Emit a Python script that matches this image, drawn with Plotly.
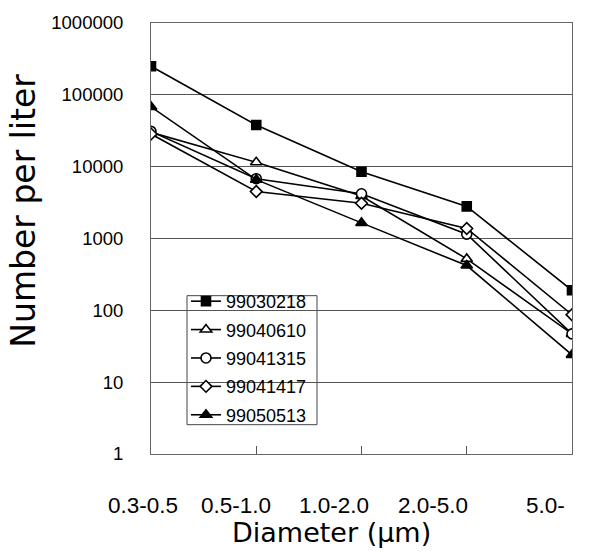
import plotly.graph_objects as go

# Particle size classes (μm)
categories = ["0.3-0.5", "0.5-1.0", "1.0-2.0", "2.0-5.0", "5.0-"]

# Number concentration per liter for each sampling run
s_99030218 = [250000, 38000, 8500, 2800, 190]
s_99040610 = [30000, 11500, 3900, 520, 47]
s_99041315 = [31000, 6800, 4200, 1150, 47]
s_99041417 = [28500, 4500, 3100, 1380, 87]
s_99050513 = [68000, 6600, 1650, 420, 24]

y_tickvals = [1, 10, 100, 1000, 10000, 100000, 1000000]
y_ticktext = ["1", "10", "100", "1000", "10000", "100000", "1000000"]

series = [
    ("99030218", s_99030218, "square", "black", 9),
    ("99040610", s_99040610, "triangle-up", "white", 10),
    ("99041315", s_99041315, "circle", "white", 10),
    ("99041417", s_99041417, "diamond", "white", 9),
    ("99050513", s_99050513, "triangle-up", "black", 10),
]

W, H = 599, 552
ML, MR, MT, MB = 100, 20, 13, 98
PW = W - ML - MR
PH = H - MT - MB
plot_left, plot_right = 151, 572
# horizontal centres of the size-class captions under the axis
label_centres = [143, 236, 334, 433, 545]


def px_x(p):
    return (p - ML) / PW


def px_y(p):
    return 1 - (p - MT) / PH


fig = go.Figure()
for name, vals, sym, fill, size in series:
    fig.add_trace(go.Scatter(
        x=list(range(len(categories))), y=vals, name=name,
        legendgroup=name,
        mode="lines+markers",
        line=dict(color="black", width=1.6),
        marker=dict(symbol=sym, size=size, color=fill,
                    line=dict(color="black", width=1.6)),
    ))

annotations = []
for cx, lab in zip(label_centres, categories):
    annotations.append(dict(
        text=lab, xref="paper", yref="paper",
        x=px_x(cx), y=px_y(507), xanchor="center", yanchor="middle",
        showarrow=False,
        font=dict(family="Liberation Sans, Arial, sans-serif", size=22.5,
                  color="black"),
    ))
annotations.append(dict(
    text="Diameter (μm)", xref="paper", yref="paper",
    x=px_x(331), y=px_y(551), xanchor="center", yanchor="bottom",
    showarrow=False, borderpad=0,
    font=dict(family="DejaVu Sans, sans-serif", size=27, color="black"),
))
annotations.append(dict(
    text="Number per liter", textangle=-90,
    xref="paper", yref="paper",
    x=px_x(24), y=px_y(205), xanchor="center", yanchor="middle",
    showarrow=False,
    font=dict(family="DejaVu Sans, sans-serif", size=33, color="black"),
))

fig.update_layout(
    width=W, height=H,
    margin=dict(l=ML, r=MR, t=MT, b=MB),
    paper_bgcolor="white", plot_bgcolor="white",
    font=dict(family="Liberation Sans, Arial, sans-serif", color="black"),
    showlegend=True,
    legend=dict(
        x=px_x(186), y=px_y(279), xanchor="left", yanchor="top",
        borderwidth=0, bgcolor="rgba(0,0,0,0)",
        font=dict(family="Liberation Sans, Arial, sans-serif", size=18),
        tracegroupgap=2,
    ),
    xaxis=dict(
        domain=[px_x(plot_left), px_x(plot_right)],
        range=[0, len(categories) - 1],
        tickvals=list(range(len(categories))),
        showticklabels=False,
        ticks="inside", ticklen=8, tickcolor="#555", tickwidth=1,
        showline=True, linecolor="#666", linewidth=1, mirror=True,
        showgrid=False, zeroline=False,
    ),
    yaxis=dict(
        type="log", range=[0, 6],
        tickvals=y_tickvals, ticktext=y_ticktext,
        tickfont=dict(size=18.5),
        ticks="outside", ticklen=23, tickcolor="rgba(0,0,0,0)",
        showline=True, linecolor="#666", linewidth=1, mirror=True,
        showgrid=True, gridcolor="#555", gridwidth=1,
        zeroline=False,
    ),
    shapes=[dict(
        type="rect", xref="paper", yref="paper",
        x0=px_x(187), x1=px_x(317), y0=px_y(424), y1=px_y(292),
        line=dict(color="#444", width=1), fillcolor="white", layer="below",
    )],
    annotations=annotations,
)

fig.write_html("out.html")
